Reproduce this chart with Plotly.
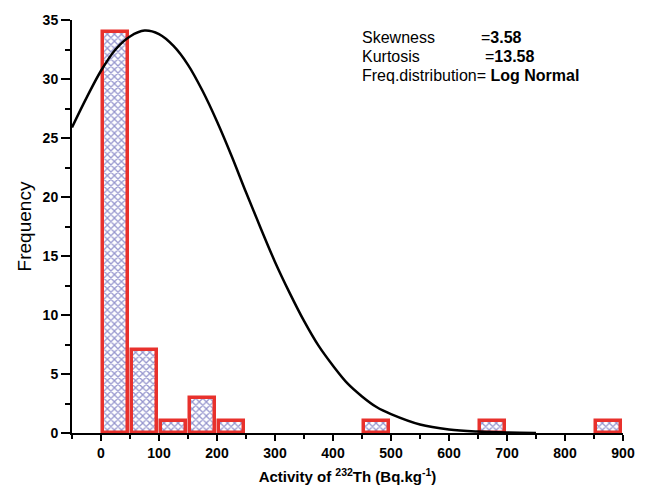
import plotly.graph_objects as go

# Histogram of 232Th activity (bin width 50 Bq/kg)
bin_centers = [25, 75, 125, 175, 225, 475, 675, 875]
frequencies = [34, 7, 1, 3, 1, 1, 1, 1]

# Fitted distribution curve, read at 25 Bq/kg steps
curve_x = [-50, -25, 0, 25, 50, 75, 100, 125, 150, 175, 200, 225, 250, 275,
           300, 325, 350, 375, 400, 425, 450, 475, 500, 550, 600, 650, 700, 750]
curve_y = [25.9, 28.4, 30.7, 32.5, 33.6, 34.1, 33.8, 32.8, 31.2, 29.0, 26.4,
           23.5, 20.4, 17.4, 14.5, 11.9, 9.5, 7.4, 5.7, 4.2, 3.1, 2.2, 1.6,
           0.72, 0.3, 0.12, 0.04, 0.01]

x_ticks = [0, 100, 200, 300, 400, 500, 600, 700, 800, 900]
y_ticks = [0, 5, 10, 15, 20, 25, 30, 35]

FONT = "Arial, 'Liberation Sans', sans-serif"

fig = go.Figure()

fig.add_trace(go.Bar(
    x=bin_centers,
    y=frequencies,
    width=43,
    marker=dict(
        color="white",
        line=dict(color="#e8312c", width=3.5),
        pattern=dict(shape="x", fgcolor="#2c2c9c", bgcolor="white",
                     size=5, solidity=0.45),
    ),
    showlegend=False,
))

fig.add_trace(go.Scatter(
    x=curve_x,
    y=curve_y,
    mode="lines",
    line=dict(color="black", width=2.5, shape="spline"),
    showlegend=False,
))

# Statistics text block
stats_rows = [
    ("Skewness", "=<b>3.58</b>", 482, 34),
    ("Kurtosis", "=<b>13.58</b>", 486, 53),
]
for label, value, vx, py in stats_rows:
    fig.add_annotation(text=label, xref="paper", yref="paper",
                       x=(362 - 72) / 555, y=1 - (py - 16) / 418,
                       xanchor="left", yanchor="middle", showarrow=False,
                       font=dict(family=FONT, size=16, color="black"))
    fig.add_annotation(text=value, xref="paper", yref="paper",
                       x=(vx - 72) / 555, y=1 - (py - 16) / 418,
                       xanchor="left", yanchor="middle", showarrow=False,
                       font=dict(family=FONT, size=16, color="black"))
fig.add_annotation(text="Freq.distribution= <b>Log Normal</b>",
                   xref="paper", yref="paper",
                   x=(362 - 72) / 555, y=1 - (72 - 16) / 418,
                   xanchor="left", yanchor="middle", showarrow=False,
                   font=dict(family=FONT, size=16, color="black"))

fig.update_layout(
    width=647,
    height=495,
    margin=dict(l=72, r=20, t=16, b=61),
    paper_bgcolor="white",
    plot_bgcolor="white",
    bargap=0,
    font=dict(family=FONT, color="black"),
)

fig.update_xaxes(
    range=[-50, 900],
    tickvals=x_ticks,
    ticks="outside",
    ticklen=6,
    tickwidth=2,
    tickcolor="black",
    minor=dict(ticks="outside", ticklen=4, tickwidth=2, dtick=50,
               tick0=0, tickcolor="black"),
    showline=True,
    linecolor="black",
    linewidth=2,
    showgrid=False,
    zeroline=False,
    tickfont=dict(family=FONT, size=14, weight="bold"),
    title=dict(text="Activity of <sup>232</sup>Th (Bq.kg<sup>-1</sup>)",
               font=dict(family=FONT, size=15, weight="bold"),
               standoff=12),
)

fig.update_yaxes(
    range=[0, 35],
    tickvals=y_ticks,
    ticks="outside",
    ticklen=9,
    tickwidth=2,
    tickcolor="black",
    minor=dict(ticks="outside", ticklen=5, tickwidth=2, dtick=2.5,
               tick0=0, tickcolor="black"),
    showline=True,
    linecolor="black",
    linewidth=2,
    showgrid=False,
    zeroline=False,
    tickfont=dict(family=FONT, size=14, weight="bold"),
    title=dict(text="Frequency", font=dict(family=FONT, size=19),
               standoff=6),
)

fig.write_html("out.html")
